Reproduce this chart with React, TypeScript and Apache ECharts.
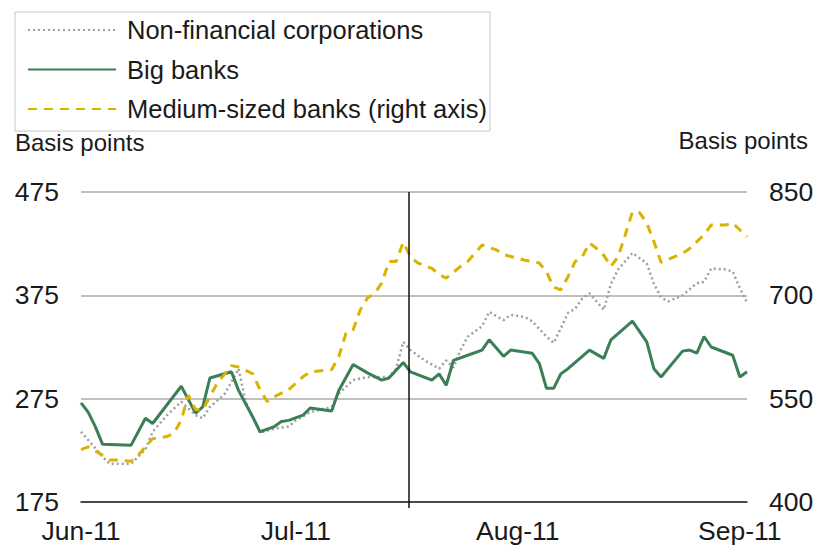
import React, { useEffect, useRef } from "react";
import * as echarts from "echarts";

const seriesNames = [
  "Non-financial corporations",
  "Big banks",
  "Medium-sized banks (right axis)",
];

const xTickDates = ["2011-06-01", "2011-07-01", "2011-08-01", "2011-09-01"];
const xTickLabels = ["Jun-11", "Jul-11", "Aug-11", "Sep-11"];
const xMin = "2011-06-01";
const xMax = "2011-09-02";
const markerDate = "2011-07-16T18:00:00";

const leftAxis = { min: 175, max: 475, interval: 100 };
const rightAxis = { min: 400, max: 850, interval: 150 };

const nonFinancial: [string, number][] = [
  ["2011-06-01", 243], ["2011-06-02", 235], ["2011-06-04", 219], ["2011-06-05", 212],
  ["2011-06-08", 212], ["2011-06-10", 226], ["2011-06-11", 243], ["2011-06-13", 259],
  ["2011-06-15", 272], ["2011-06-17", 259], ["2011-06-18", 256], ["2011-06-19", 267],
  ["2011-06-21", 279], ["2011-06-22", 291], ["2011-06-23", 304], ["2011-06-24", 272],
  ["2011-06-26", 242], ["2011-06-28", 246], ["2011-06-30", 248], ["2011-07-01", 254],
  ["2011-07-03", 262], ["2011-07-06", 267], ["2011-07-07", 280], ["2011-07-09", 293],
  ["2011-07-11", 296], ["2011-07-14", 296], ["2011-07-15", 304], ["2011-07-16", 330],
  ["2011-07-17", 322], ["2011-07-19", 312], ["2011-07-21", 304], ["2011-07-22", 312],
  ["2011-07-23", 305], ["2011-07-24", 322], ["2011-07-25", 335], ["2011-07-27", 345],
  ["2011-07-28", 359], ["2011-07-30", 351], ["2011-07-31", 356], ["2011-08-02", 354],
  ["2011-08-03", 350], ["2011-08-05", 335], ["2011-08-06", 329], ["2011-08-07", 343],
  ["2011-08-08", 358], ["2011-08-09", 362], ["2011-08-10", 372], ["2011-08-11", 377],
  ["2011-08-12", 369], ["2011-08-13", 361], ["2011-08-14", 386], ["2011-08-15", 400],
  ["2011-08-17", 416], ["2011-08-19", 406], ["2011-08-20", 386], ["2011-08-21", 373],
  ["2011-08-22", 369], ["2011-08-24", 375], ["2011-08-26", 387], ["2011-08-27", 388],
  ["2011-08-28", 401], ["2011-08-30", 400], ["2011-08-31", 398], ["2011-09-01", 382],
  ["2011-09-02", 368],
];

const bigBanks: [string, number][] = [
  ["2011-06-01", 271], ["2011-06-02", 262], ["2011-06-03", 248], ["2011-06-04", 231],
  ["2011-06-08", 230], ["2011-06-10", 256], ["2011-06-11", 251], ["2011-06-15", 287],
  ["2011-06-17", 261], ["2011-06-18", 267], ["2011-06-19", 295], ["2011-06-22", 301],
  ["2011-06-23", 283], ["2011-06-25", 257], ["2011-06-26", 243], ["2011-06-28", 248],
  ["2011-06-29", 253], ["2011-06-30", 254], ["2011-07-02", 259], ["2011-07-03", 266],
  ["2011-07-06", 263], ["2011-07-07", 283], ["2011-07-09", 308], ["2011-07-11", 300],
  ["2011-07-13", 293], ["2011-07-14", 295], ["2011-07-16", 310], ["2011-07-17", 301],
  ["2011-07-20", 293], ["2011-07-21", 299], ["2011-07-22", 288], ["2011-07-23", 312],
  ["2011-07-25", 317], ["2011-07-27", 322], ["2011-07-28", 332], ["2011-07-30", 316],
  ["2011-07-31", 322], ["2011-08-03", 319], ["2011-08-04", 309], ["2011-08-05", 285],
  ["2011-08-06", 285], ["2011-08-07", 299], ["2011-08-08", 304], ["2011-08-10", 316],
  ["2011-08-11", 322], ["2011-08-13", 314], ["2011-08-14", 332], ["2011-08-17", 350],
  ["2011-08-19", 330], ["2011-08-20", 304], ["2011-08-21", 296], ["2011-08-24", 321],
  ["2011-08-25", 322], ["2011-08-26", 319], ["2011-08-27", 335], ["2011-08-28", 325],
  ["2011-08-31", 317], ["2011-09-01", 296], ["2011-09-02", 301],
];

const mediumBanks: [string, number][] = [
  ["2011-06-01", 476], ["2011-06-02", 480], ["2011-06-04", 468], ["2011-06-05", 461],
  ["2011-06-06", 461], ["2011-06-08", 459], ["2011-06-09", 468], ["2011-06-11", 492],
  ["2011-06-13", 495], ["2011-06-14", 500], ["2011-06-15", 519], ["2011-06-16", 555],
  ["2011-06-17", 534], ["2011-06-18", 534], ["2011-06-20", 572], ["2011-06-22", 598],
  ["2011-06-23", 596], ["2011-06-24", 591], ["2011-06-25", 586], ["2011-06-26", 563],
  ["2011-06-27", 546], ["2011-06-28", 553], ["2011-06-30", 563], ["2011-07-02", 582],
  ["2011-07-03", 589], ["2011-07-06", 592], ["2011-07-07", 611], ["2011-07-08", 645],
  ["2011-07-09", 650], ["2011-07-10", 679], ["2011-07-11", 696], ["2011-07-12", 703],
  ["2011-07-13", 718], ["2011-07-14", 749], ["2011-07-15", 749], ["2011-07-16", 777],
  ["2011-07-17", 756], ["2011-07-18", 747], ["2011-07-20", 739], ["2011-07-21", 730],
  ["2011-07-22", 725], ["2011-07-24", 742], ["2011-07-25", 749], ["2011-07-27", 773],
  ["2011-07-29", 766], ["2011-07-30", 759], ["2011-08-01", 754], ["2011-08-02", 751],
  ["2011-08-04", 747], ["2011-08-05", 734], ["2011-08-06", 712], ["2011-08-07", 708],
  ["2011-08-08", 727], ["2011-08-09", 749], ["2011-08-10", 756], ["2011-08-11", 776],
  ["2011-08-12", 768], ["2011-08-13", 758], ["2011-08-14", 742], ["2011-08-15", 756],
  ["2011-08-16", 788], ["2011-08-17", 821], ["2011-08-18", 820], ["2011-08-19", 805],
  ["2011-08-20", 778], ["2011-08-21", 748], ["2011-08-24", 761], ["2011-08-25", 768],
  ["2011-08-27", 788], ["2011-08-28", 802], ["2011-08-30", 802], ["2011-08-31", 805],
  ["2011-09-02", 785],
];

const FONT = "'Liberation Sans', Arial, sans-serif";
const TEXT = "#1a1a1a";

const ts = (s: string) => new Date(s.length === 10 ? s + "T00:00:00" : s).getTime();

export default function App() {
  const ref = useRef<HTMLDivElement>(null);

  useEffect(() => {
    if (!ref.current) return;
    const chart = echarts.init(ref.current, undefined, { renderer: "svg" });
    const tickTs = xTickDates.map(ts);
    const labelFor = (v: number) => {
      const i = tickTs.findIndex((t) => Math.abs(t - v) < 3600 * 1000);
      return i >= 0 ? xTickLabels[i] : "";
    };

    chart.setOption({
      animation: false,
      backgroundColor: "#ffffff",
      textStyle: { fontFamily: FONT },
      grid: { left: 81, right: 71, top: 192, bottom: 50, containLabel: false },
      legend: {
        orient: "vertical",
        left: 15,
        top: 12,
        itemWidth: 88,
        itemHeight: 14,
        itemGap: 13.5,
        padding: [5, 3, 9, 12],
        borderColor: "#c8c8c8",
        borderWidth: 1,
        selectedMode: false,
        data: seriesNames,
        itemStyle: { opacity: 0 },
        textStyle: { fontSize: 25.5, color: TEXT, fontFamily: FONT, padding: [0, 0, 0, 6] },
      },
      graphic: [
        {
          type: "text",
          left: 15,
          top: 130,
          style: { text: "Basis points", fontSize: 24, fill: TEXT, fontFamily: FONT },
        },
        {
          type: "text",
          right: 10,
          top: 128,
          style: { text: "Basis points", fontSize: 24, fill: TEXT, fontFamily: FONT },
        },
      ],
      xAxis: {
        type: "value",
        min: ts(xMin),
        max: ts(xMax),
        axisLine: { show: true, lineStyle: { color: "#222", width: 1.5 } },
        axisTick: {
          show: true,
          customValues: [ts(markerDate)],
          length: 6,
          lineStyle: { color: "#111", width: 1.5 },
        },
        splitLine: { show: false },
        axisLabel: {
          customValues: tickTs,
          formatter: (v: number) => labelFor(v),
          fontSize: 26.5,
          color: TEXT,
          fontFamily: FONT,
          margin: 15,
          hideOverlap: false,
          showMinLabel: true,
          showMaxLabel: true,
        },
      },
      yAxis: [
        {
          type: "value",
          min: leftAxis.min,
          max: leftAxis.max,
          interval: leftAxis.interval,
          axisLine: { show: false },
          axisTick: { show: false },
          splitLine: { show: true, lineStyle: { color: "#ababab", width: 1.5 } },
          axisLabel: { fontSize: 26.5, color: TEXT, fontFamily: FONT, margin: 22 },
        },
        {
          type: "value",
          min: rightAxis.min,
          max: rightAxis.max,
          interval: rightAxis.interval,
          position: "right",
          axisLine: { show: false },
          axisTick: { show: false },
          splitLine: { show: false },
          axisLabel: { fontSize: 26.5, color: TEXT, fontFamily: FONT, margin: 22 },
        },
      ],
      series: [
        {
          name: seriesNames[0],
          type: "line",
          yAxisIndex: 0,
          data: nonFinancial.map(([d, v]) => [ts(d), v]),
          symbol: "none",
          showSymbol: false,
          z: 2,
          lineStyle: { color: "#9e9e9e", width: 2.5, type: [2, 3] },
          itemStyle: { color: "#9e9e9e" },
          markLine: {
            silent: true,
            symbol: "none",
            label: { show: false },
            lineStyle: { color: "#111", width: 1.5, type: "solid" },
            data: [{ xAxis: ts(markerDate) }],
          },
        },
        {
          name: seriesNames[1],
          type: "line",
          yAxisIndex: 0,
          data: bigBanks.map(([d, v]) => [ts(d), v]),
          symbol: "none",
          showSymbol: false,
          z: 3,
          lineStyle: { color: "#3a7f55", width: 3 },
          itemStyle: { color: "#3a7f55" },
        },
        {
          name: seriesNames[2],
          type: "line",
          yAxisIndex: 1,
          data: mediumBanks.map(([d, v]) => [ts(d), v]),
          symbol: "none",
          showSymbol: false,
          z: 4,
          lineStyle: { color: "#d8b300", width: 3, type: [9, 7] },
          itemStyle: { color: "#d8b300" },
        },
      ],
    });

    return () => chart.dispose();
  }, []);

  return (
    <div
      ref={ref}
      style={{ position: "fixed", left: 0, top: 0, width: 818, height: 552, background: "#fff" }}
    />
  );
}
